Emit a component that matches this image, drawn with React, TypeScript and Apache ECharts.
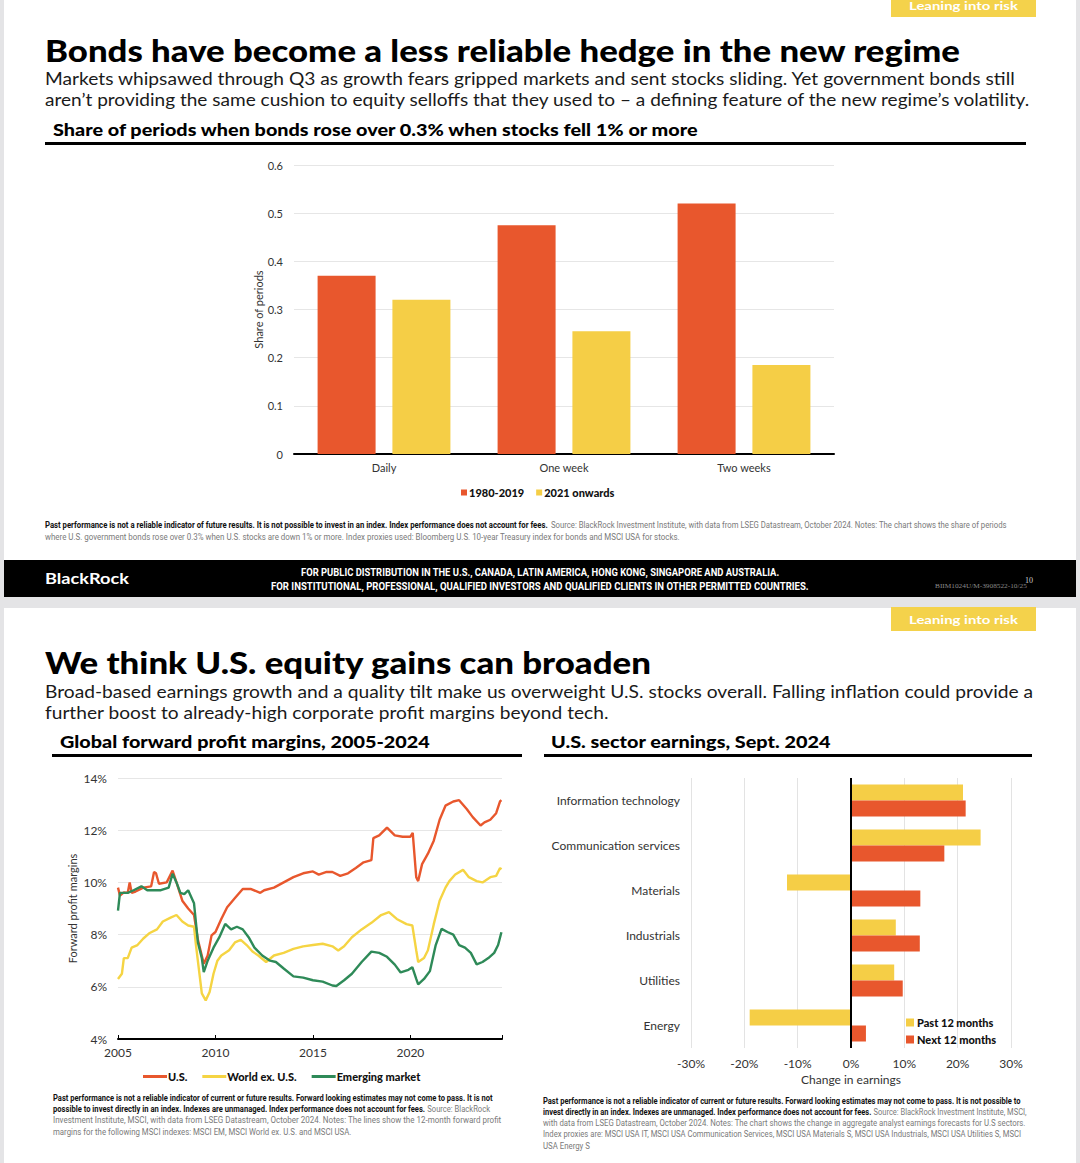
import React, { useEffect, useRef } from 'react';
import * as echarts from 'echarts';

// ---------- DATA ----------
const barCategories = ['Daily', 'One week', 'Two weeks'];
const bars1980to2019 = [0.37, 0.475, 0.52];
const bars2021on = [0.32, 0.255, 0.185];

const usMargins: [number, number][] = [
  [2005.0, 9.8], [2005.1, 9.5], [2005.3, 9.62], [2005.5, 9.6], [2005.6, 10.0], [2005.7, 9.6], [2005.9, 9.65],
  [2006.3, 9.8], [2006.7, 9.85], [2006.85, 10.4], [2006.95, 10.35], [2007.1, 9.95], [2007.5, 10.0], [2007.8, 10.45],
  [2008.0, 10.0], [2008.3, 9.3], [2008.6, 9.0], [2008.9, 8.75], [2009.1, 7.8], [2009.4, 6.88], [2009.6, 7.2],
  [2009.8, 7.97], [2010.0, 8.1], [2010.3, 8.6], [2010.6, 9.05], [2011.0, 9.4], [2011.4, 9.75], [2011.8, 9.75],
  [2012.3, 9.6], [2012.5, 9.7], [2013.0, 9.8], [2013.5, 10.0], [2014.0, 10.2], [2014.5, 10.35], [2015.0, 10.42],
  [2015.3, 10.3], [2015.7, 10.4], [2016.0, 10.4], [2016.4, 10.25], [2016.8, 10.35], [2017.2, 10.55], [2017.6, 10.77],
  [2018.0, 10.85], [2018.1, 11.7], [2018.4, 11.8], [2018.8, 12.1], [2019.2, 11.8], [2019.6, 11.75], [2020.0, 11.75],
  [2020.12, 11.9], [2020.3, 10.2], [2020.4, 10.05], [2020.6, 10.7], [2020.9, 11.1], [2021.2, 11.6], [2021.5, 12.4],
  [2021.8, 12.94], [2022.2, 13.1], [2022.5, 13.15], [2022.9, 12.8], [2023.2, 12.5], [2023.6, 12.18], [2023.8, 12.3],
  [2024.1, 12.4], [2024.4, 12.65], [2024.6, 13.1], [2024.67, 13.15],
];

const worldExUsMargins: [number, number][] = [
  [2005.0, 6.3], [2005.2, 6.5], [2005.3, 7.1], [2005.5, 7.1], [2005.7, 7.5], [2006.0, 7.6], [2006.3, 7.85],
  [2006.6, 8.05], [2007.0, 8.2], [2007.3, 8.5], [2007.7, 8.65], [2008.0, 8.75], [2008.3, 8.5], [2008.6, 8.35],
  [2008.9, 8.3], [2009.0, 7.6], [2009.3, 5.75], [2009.5, 5.48], [2009.7, 5.8], [2009.9, 6.5], [2010.1, 7.0],
  [2010.3, 7.2], [2010.7, 7.4], [2011.0, 7.7], [2011.3, 7.8], [2011.6, 7.6], [2011.9, 7.35], [2012.2, 7.2],
  [2012.6, 6.95], [2013.0, 7.2], [2013.5, 7.3], [2014.0, 7.45], [2014.5, 7.55], [2015.0, 7.6], [2015.5, 7.65],
  [2016.0, 7.55], [2016.3, 7.39], [2016.6, 7.55], [2017.0, 7.9], [2017.5, 8.2], [2018.0, 8.45], [2018.5, 8.75],
  [2018.9, 8.86], [2019.3, 8.6], [2019.8, 8.4], [2020.1, 8.35], [2020.3, 7.4], [2020.4, 6.95], [2020.7, 7.1],
  [2020.9, 7.4], [2021.2, 8.4], [2021.5, 9.3], [2021.8, 9.8], [2022.0, 10.05], [2022.3, 10.3], [2022.7, 10.48],
  [2023.0, 10.2], [2023.4, 10.05], [2023.7, 10.0], [2024.1, 10.2], [2024.4, 10.25], [2024.6, 10.55], [2024.67, 10.5],
];

const emergingMargins: [number, number][] = [
  [2005.0, 8.92], [2005.1, 9.6], [2005.5, 9.6], [2005.8, 9.7], [2006.2, 9.85], [2006.5, 9.7], [2006.9, 9.7],
  [2007.2, 9.7], [2007.6, 9.8], [2007.8, 10.33], [2008.0, 10.0], [2008.2, 9.6], [2008.4, 9.55], [2008.6, 9.7],
  [2008.9, 9.2], [2009.1, 7.7], [2009.3, 7.1], [2009.4, 6.56], [2009.6, 7.0], [2009.9, 7.5], [2010.2, 7.9],
  [2010.5, 8.41], [2010.8, 8.2], [2011.1, 8.3], [2011.4, 8.2], [2011.7, 7.9], [2012.0, 7.5], [2012.4, 7.2],
  [2012.8, 7.0], [2013.1, 6.95], [2013.5, 6.7], [2014.0, 6.4], [2014.5, 6.35], [2015.0, 6.25], [2015.5, 6.2],
  [2016.0, 6.05], [2016.2, 6.03], [2016.6, 6.25], [2017.0, 6.5], [2017.5, 6.95], [2018.0, 7.35], [2018.4, 7.3],
  [2018.8, 7.15], [2019.2, 6.85], [2019.5, 6.55], [2019.9, 6.65], [2020.1, 6.75], [2020.3, 6.3], [2020.4, 6.09],
  [2020.7, 6.3], [2021.0, 6.6], [2021.3, 7.6], [2021.6, 8.22], [2021.9, 8.1], [2022.2, 8.0], [2022.5, 7.6],
  [2022.8, 7.5], [2023.1, 7.3], [2023.4, 6.86], [2023.7, 6.95], [2024.0, 7.1], [2024.3, 7.3], [2024.5, 7.6],
  [2024.67, 8.09],
];

const sectors = ['Information technology', 'Communication services', 'Materials', 'Industrials', 'Utilities', 'Energy'];
const pastTwelveMonths = [21, 24.3, -12, 8.4, 8.1, -19];
const nextTwelveMonths = [21.5, 17.5, 13, 12.9, 9.7, 2.8];

const barTicks = { min: 0, max: 0.6, interval: 0.1 };
const marginTicks = { min: 4, max: 14, interval: 2 };
const earningsTicks = { min: -30, max: 30, interval: 10 };

// ---------- STYLE ----------
const RED = '#E8572D';
const YELLOW = '#F5CE46';
const LINE_YELLOW = '#F5D443';
const GREEN = '#2E8A58';
const TAG = '#F4D24B';
const FONT = 'Lato';
const NOTE_FONT = 'Roboto';

let measureCtx: CanvasRenderingContext2D | null = null;
function measure(text: string, weight: string | number, size: number, family: string) {
  if (!measureCtx) measureCtx = document.createElement('canvas').getContext('2d');
  measureCtx!.font = `${weight} ${size}px "${family}"`;
  return measureCtx!.measureText(text).width;
}

function txt(text: string, x: number, y: number, o: any) {
  const family = o.family || FONT;
  const weight = o.weight || 'normal';
  const size = o.size;
  let scaleX = 1;
  if (o.width) scaleX = o.width / measure(text, weight, size, family);
  const align = o.align || 'left';
  return {
    type: 'text', x, y, scaleX, z: 100, silent: true,
    style: {
      text, fill: o.color || '#000', fontSize: size, fontWeight: weight, fontFamily: family,
      textAlign: align, align, textVerticalAlign: 'middle', verticalAlign: 'middle', x: 0, y: 0,
    },
  };
}

type Seg = [string, boolean];
function note(segs: Seg[], x: number, y: number, width: number, size = 9) {
  const w = segs.reduce((s, [t, b]) => s + measure(t, b ? 'bold' : 'normal', size, NOTE_FONT), 0);
  const text = segs.map(([t, b]) => `{${b ? 'b' : 'r'}|${t}}`).join('');
  return {
    type: 'text', x, y, scaleX: width / w, z: 100, silent: true,
    style: {
      text, fontSize: size, fontFamily: NOTE_FONT, fill: '#7a7a7a',
      textVerticalAlign: 'middle', verticalAlign: 'middle',
      rich: {
        b: { fontSize: size, fontFamily: NOTE_FONT, fontWeight: 'bold', fill: '#111' },
        r: { fontSize: size, fontFamily: NOTE_FONT, fontWeight: 'normal', fill: '#7a7a7a' },
      },
    },
  };
}

function rect(x: number, y: number, w: number, h: number, fill: string, z = 50) {
  return { type: 'rect', z, silent: true, shape: { x, y, width: w, height: h }, style: { fill } };
}

function buildGraphics() {
  const els: any[] = [];
  // slides
  els.push(rect(4, 0, 1072, 597, '#ffffff', -5));
  els.push(rect(4, 608, 1072, 555, '#ffffff', -5));
  els.push(rect(4, 560, 1072, 37, '#000000', 50));
  els.push(rect(891, 0, 145, 17, TAG, 50));
  els.push(rect(891, 607, 145, 24, TAG, 50));
  // rules
  els.push(rect(45, 142, 981, 3, '#000', 50));
  els.push(rect(52, 754, 470, 3, '#000', 50));
  els.push(rect(544, 754, 488, 3, '#000', 50));

  // slide 1 texts
  els.push(txt('Leaning into risk', 909, 6, { size: 12, weight: 'bold', color: '#fff', width: 109 }));
  els.push(txt('Bonds have become a less reliable hedge in the new regime', 45, 50, { size: 30, weight: 900, width: 916 }));
  els.push(txt('Markets whipsawed through Q3 as growth fears gripped markets and sent stocks sliding. Yet government bonds still', 45, 78, { size: 18, color: '#1a1a1a', width: 971 }));
  els.push(txt('aren\u2019t providing the same cushion to equity selloffs that they used to \u2013 a defining feature of the new regime\u2019s volatility.', 45, 99, { size: 18, color: '#1a1a1a', width: 988 }));
  els.push(txt('Share of periods when bonds rose over 0.3% when stocks fell 1% or more', 53, 130, { size: 17, weight: 900, width: 647 }));

  els.push(note([
    ['Past performance is not a reliable indicator of future results. It is not possible to invest in an index. Index performance does not account for fees.', true],
    [' Source: BlackRock Investment Institute, with data from LSEG Datastream, October 2024. Notes: The chart shows the share of periods', false],
  ], 45, 525, 963));
  els.push(note([
    ['where U.S. government bonds rose over 0.3% when U.S. stocks are down 1% or more. Index proxies used: Bloomberg U.S. 10-year Treasury index for bonds and MSCI USA for stocks.', false],
  ], 45, 537, 636));

  // footer
  els.push(txt('BlackRock', 45, 579, { size: 15, weight: 'bold', color: '#fff', width: 84 }));
  els.push(txt('FOR PUBLIC DISTRIBUTION IN THE U.S., CANADA, LATIN AMERICA, HONG KONG, SINGAPORE AND AUSTRALIA.', 301, 572, { size: 10, weight: 'bold', color: '#fff', family: NOTE_FONT, width: 479 }));
  els.push(txt('FOR INSTITUTIONAL, PROFESSIONAL, QUALIFIED INVESTORS AND QUALIFIED CLIENTS IN OTHER PERMITTED COUNTRIES.', 271, 586, { size: 10, weight: 'bold', color: '#fff', family: NOTE_FONT, width: 538 }));
  els.push(txt('BIIM1024U/M-3908522-10/25', 935, 586, { size: 6, color: '#8a8a8a', family: 'Liberation Serif', width: 92 }));
  els.push(txt('10', 1025, 580, { size: 8, color: '#cfcfcf', family: 'Liberation Serif' }));

  // slide 2 texts
  els.push(txt('Leaning into risk', 909, 620, { size: 12, weight: 'bold', color: '#fff', width: 109 }));
  els.push(txt('We think U.S. equity gains can broaden', 45, 662, { size: 30, weight: 900, width: 607 }));
  els.push(txt('Broad-based earnings growth and a quality tilt make us overweight U.S. stocks overall. Falling inflation could provide a', 45, 691, { size: 18, color: '#1a1a1a', width: 989 }));
  els.push(txt('further boost to already-high corporate profit margins beyond tech.', 45, 712, { size: 18, color: '#1a1a1a', width: 564 }));
  els.push(txt('Global forward profit margins, 2005-2024', 60, 742, { size: 17, weight: 900, width: 370 }));
  els.push(txt('U.S. sector earnings, Sept. 2024', 551, 742, { size: 17, weight: 900, width: 280 }));

  els.push(note([['Past performance is not a reliable indicator of current or future results. Forward looking estimates may not come to pass. It is not', true]], 53, 1098, 440));
  els.push(note([
    ['possible to invest directly in an index. Indexes are unmanaged. Index performance does not account for fees.', true],
    [' Source: BlackRock', false],
  ], 53, 1109, 437));
  els.push(note([['Investment Institute, MSCI, with data from LSEG Datastream, October 2024. Notes: The lines show the 12-month forward profit', false]], 53, 1120, 449));
  els.push(note([['margins for the following MSCI indexes: MSCI EM, MSCI World ex. U.S. and MSCI USA.', false]], 53, 1132, 299));

  els.push(note([['Past performance is not a reliable indicator of current or future results. Forward looking estimates may not come to pass. It is not possible to', true]], 543, 1101, 479));
  els.push(note([
    ['invest directly in an index. Indexes are unmanaged. Index performance does not account for fees.', true],
    [' Source: BlackRock Investment Institute, MSCI,', false],
  ], 543, 1112, 484));
  els.push(note([['with data from LSEG Datastream, October 2024. Notes: The chart shows the change in aggregate analyst earnings forecasts for U.S sectors.', false]], 543, 1123, 483));
  els.push(note([['Index proxies are: MSCI USA IT, MSCI USA Communication Services, MSCI USA Materials S, MSCI USA Industrials, MSCI USA Utilities S, MSCI', false]], 543, 1134, 479));
  els.push(note([['USA Energy S', false]], 543, 1146, 47));
  return els;
}

const axisText = { color: '#333', fontSize: 11, fontFamily: FONT };
const legendText = { color: '#111', fontSize: 11, fontWeight: 900, fontFamily: FONT };

function buildOption(): any {
  return {
    animation: false,
    backgroundColor: '#e4e4e6',
    graphic: { elements: buildGraphics() },
    grid: [
      { left: 294, right: 246, top: 165, bottom: 709, containLabel: false },
      { left: 118, right: 578, top: 778, bottom: 124, containLabel: false },
      { left: 691, right: 69, top: 778, bottom: 115, containLabel: false },
    ],
    xAxis: [
      {
        gridIndex: 0, type: 'category', data: barCategories,
        axisLine: { lineStyle: { color: '#000', width: 2 } }, axisTick: { show: false },
        axisLabel: { ...axisText, margin: 8 },
      },
      {
        gridIndex: 1, type: 'value', min: 2005, max: 2024.7, interval: 5,
        axisLine: { lineStyle: { color: '#000', width: 2 } },
        axisTick: { show: true, inside: true, length: 4, lineStyle: { color: '#000' } },
        axisLabel: {
          color: '#333', fontSize: 12, fontFamily: FONT, margin: 7,
          formatter: (v: number) => (Math.abs(v % 5) < 1e-6 ? String(Math.round(v)) : ''),
        },
        splitLine: { show: false },
      },
      {
        gridIndex: 2, type: 'value', ...earningsTicks,
        axisLine: { show: false }, axisTick: { show: false },
        axisLabel: { ...axisText, fontSize: 12, margin: 9, formatter: '{value}%' },
        splitLine: { show: true, lineStyle: { color: '#e3e3e3' } },
        name: 'Change in earnings', nameLocation: 'middle', nameGap: 25,
        nameTextStyle: { ...axisText, fontSize: 12 },
      },
    ],
    yAxis: [
      {
        gridIndex: 0, type: 'value', ...barTicks,
        axisLine: { show: false }, axisTick: { show: false },
        axisLabel: { ...axisText, margin: 11, formatter: (v: number) => (v === 0 ? '0' : v.toFixed(1)) },
        splitLine: { lineStyle: { color: '#e6e6e6' } },
        name: 'Share of periods', nameLocation: 'middle', nameRotate: 90, nameGap: 30,
        nameTextStyle: { ...axisText, fontSize: 11 },
      },
      {
        gridIndex: 1, type: 'value', ...marginTicks,
        axisLine: { show: false }, axisTick: { show: false },
        axisLabel: { color: '#333', fontSize: 12, fontFamily: FONT, margin: 11, formatter: '{value}%' },
        splitLine: { lineStyle: { color: '#e6e6e6' } },
        name: 'Forward profit margins', nameLocation: 'middle', nameRotate: 90, nameGap: 40,
        nameTextStyle: { ...axisText, fontSize: 11 },
      },
      {
        gridIndex: 2, type: 'category', data: sectors, inverse: true,
        axisLine: { show: false }, axisTick: { show: false },
        axisLabel: { ...axisText, fontSize: 12, margin: 11 },
        splitLine: { show: false },
      },
    ],
    legend: [
      {
        data: ['1980-2019', '2021 onwards'], left: 456, top: 482, icon: 'rect',
        itemWidth: 6, itemHeight: 6, itemGap: 12, textStyle: { ...legendText, padding: [0, 0, 0, -3] },
      },
      {
        data: ['U.S.', 'World ex. U.S.', 'Emerging market'], left: 138, top: 1066, icon: 'rect',
        itemWidth: 24, itemHeight: 3, itemGap: 15, textStyle: { ...legendText, padding: [0, 0, 0, -4] },
      },
      {
        data: ['Past 12 months', 'Next 12 months'], orient: 'vertical', left: 901, top: 1012, icon: 'rect',
        itemWidth: 8, itemHeight: 8, itemGap: 6, textStyle: { ...legendText, padding: [0, 0, 0, -2] },
      },
    ],
    series: [
      { name: '1980-2019', type: 'bar', xAxisIndex: 0, yAxisIndex: 0, data: bars1980to2019, barWidth: 58, barGap: '29%', itemStyle: { color: RED } },
      { name: '2021 onwards', type: 'bar', xAxisIndex: 0, yAxisIndex: 0, data: bars2021on, barWidth: 58, barGap: '29%', itemStyle: { color: YELLOW } },
      { name: 'U.S.', type: 'line', xAxisIndex: 1, yAxisIndex: 1, data: usMargins, showSymbol: false, symbol: 'none', lineStyle: { color: RED, width: 2.4 }, itemStyle: { color: RED } },
      { name: 'World ex. U.S.', type: 'line', xAxisIndex: 1, yAxisIndex: 1, data: worldExUsMargins, showSymbol: false, symbol: 'none', lineStyle: { color: LINE_YELLOW, width: 2.4 }, itemStyle: { color: LINE_YELLOW } },
      { name: 'Emerging market', type: 'line', xAxisIndex: 1, yAxisIndex: 1, data: emergingMargins, showSymbol: false, symbol: 'none', lineStyle: { color: GREEN, width: 2.4 }, itemStyle: { color: GREEN } },
      { name: 'Past 12 months', type: 'bar', xAxisIndex: 2, yAxisIndex: 2, data: pastTwelveMonths, barWidth: 16, barGap: '0%', itemStyle: { color: YELLOW } },
      {
        name: 'Next 12 months', type: 'bar', xAxisIndex: 2, yAxisIndex: 2, data: nextTwelveMonths, barWidth: 16, barGap: '0%', itemStyle: { color: RED },
        markLine: {
          silent: true, symbol: 'none', label: { show: false },
          lineStyle: { color: '#000', width: 2, type: 'solid' }, data: [{ xAxis: 0 }],
        },
      },
    ],
  };
}

export default function App() {
  const ref = useRef<HTMLDivElement>(null);
  useEffect(() => {
    document.body.style.margin = '0';
    if (!ref.current) return;
    const chart = echarts.init(ref.current, undefined, { renderer: 'svg' });
    chart.setOption(buildOption());
    return () => chart.dispose();
  }, []);
  return <div ref={ref} style={{ position: 'absolute', left: 0, top: 0, width: 1080, height: 1163 }} />;
}
